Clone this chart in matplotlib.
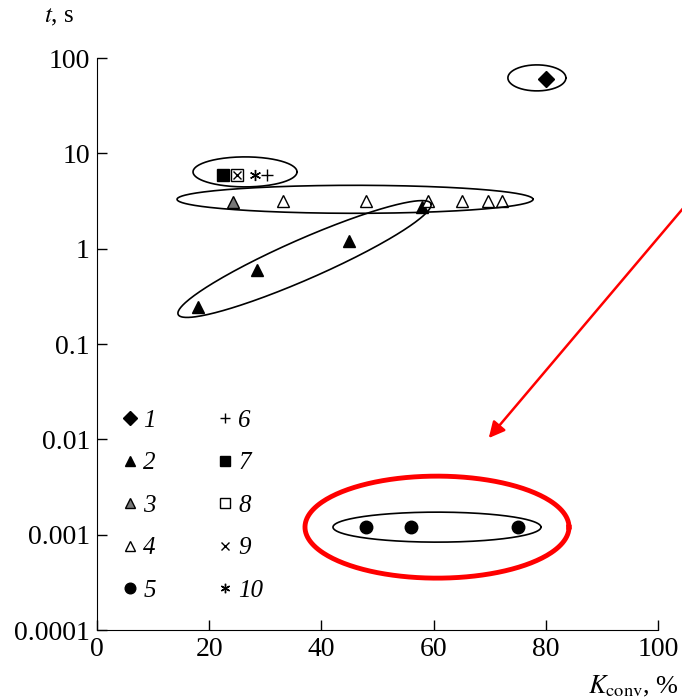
import numpy as np
import matplotlib
matplotlib.use("Agg")
import matplotlib.pyplot as plt
from matplotlib.ticker import FixedLocator, FixedFormatter

plt.rcParams['font.family'] = ['Liberation Serif', 'DejaVu Serif']
plt.rcParams['mathtext.fontset'] = 'stix'

# series 1..10: conversion K (%), time t (s)
x1 = [80]
t1 = [60]
x2 = [18, 28.5, 45, 58]
t2 = [0.245, 0.6, 1.2, 2.75]
x3 = [24.2]
t3 = [3.1]
x4 = [33.2, 48, 59, 65, 69.7, 72.2]
t4 = [3.2, 3.2, 3.2, 3.2, 3.2, 3.2]
x5 = [48, 56, 75]
t5 = [0.0012, 0.0012, 0.0012]
x6 = [30.3]
t6 = [6]
x7 = [22.5]
t7 = [6]
x8 = [25]
t8 = [6]
x9 = [25]
t9 = [6]
x10 = [28.2]
t10 = [6]

yticks = [1e-4, 1e-3, 1e-2, 1e-1, 1, 10, 100]
ylabels = ['0.0001', '0.001', '0.01', '0.1', '1', '10', '100']
xticks = [0, 20, 40, 60, 80, 100]

fig = plt.figure(figsize=(6.82, 7), dpi=100)
ax = fig.add_axes([0.142, 0.1, 0.823, 0.817])
ax.set_yscale('log')
ax.set_xlim(0, 100)
ax.set_ylim(1e-4, 100)
ax.spines['top'].set_visible(False)
ax.spines['right'].set_visible(False)
ax.yaxis.set_major_locator(FixedLocator(yticks))
ax.yaxis.set_major_formatter(FixedFormatter(ylabels))
ax.yaxis.set_minor_locator(FixedLocator([]))
ax.set_xticks(xticks)
ax.tick_params(direction='in', length=7, width=1, labelsize=20, pad=5)

ms = 8
ax.plot(x1, t1, 'D', color='k', ms=ms, label='1')
ax.plot(x2, t2, '^', color='k', ms=ms, label='2')
ax.plot(x3, t3, '^', mfc='#777777', mec='k', ms=ms, label='3')
ax.plot(x4, t4, '^', mfc='white', mec='k', ms=ms, mew=1, label='4')
ax.plot(x5, t5, 'o', color='k', ms=ms + 1, label='5')
ax.plot(x6, t6, '+', color='k', ms=ms + 1, mew=1, label='6')
ax.plot(x7, t7, 's', color='k', ms=ms, label='7')
ax.plot(x8, t8, 's', mfc='white', mec='k', ms=ms, label='8')
ax.plot(x9, t9, 'x', color='k', ms=6, mew=1, label='9')
ax.plot(x10, t10, marker=(6, 2, 0), ls='none', color='k', ms=ms, mew=1, label='10')

leg = ax.legend(ncol=2, loc='lower left', bbox_to_anchor=(0.005, 0.01),
                frameon=False, handlelength=0.6, handletextpad=0.25,
                columnspacing=2.45, labelspacing=0.8, markerscale=0.85,
                prop={'family': 'Liberation Serif', 'style': 'italic', 'size': 18})


def ellipse(cx, cy, a, b, ang, color='k', lw=1.2):
    px, py = ax.transData.transform((cx, cy))
    th = np.linspace(0, 2 * np.pi, 300)
    r = np.radians(ang)
    xs = px + a * np.cos(th) * np.cos(r) - b * np.sin(th) * np.sin(r)
    ys = py + a * np.cos(th) * np.sin(r) + b * np.sin(th) * np.cos(r)
    pts = ax.transData.inverted().transform(np.column_stack([xs, ys]))
    ax.plot(pts[:, 0], pts[:, 1], color=color, lw=lw, clip_on=False)


ellipse(78.4, 62, 29, 13, 0)
ellipse(26.4, 6.4, 52, 15, 0)
ellipse(46.0, 3.3, 178, 14, 0)
ellipse(37.0, 0.78, 138, 20, 23.7)
ellipse(60.6, 0.0012, 104, 15, 0)
ellipse(60.6, 0.0012, 132, 51, 0, color='red', lw=3.5)

ax.annotate('', xy=(69.5, 0.0098), xytext=(105, 2.9),
            arrowprops=dict(arrowstyle='-|>', color='red', lw=1.8,
                            mutation_scale=24),
            annotation_clip=False)

fig.text(0.065, 0.975, '$t$, s', fontsize=18, ha='left', va='center')
fig.text(0.995, 0.02, r'$K_{\rm conv}$, %', fontsize=19, ha='right', va='center')

fig.savefig('out.png', dpi=100)
